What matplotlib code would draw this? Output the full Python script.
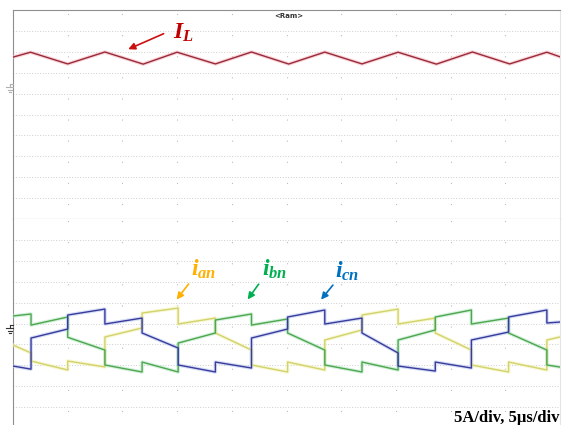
import numpy as np
import matplotlib
matplotlib.use('Agg')
import matplotlib.pyplot as plt
from matplotlib.lines import Line2D

plt.rcParams['mathtext.fontset'] = 'custom'
plt.rcParams['mathtext.it'] = 'Liberation Serif:italic:bold'
plt.rcParams['mathtext.rm'] = 'Liberation Serif:bold'
plt.rcParams['mathtext.bf'] = 'Liberation Serif:bold'

# Scope data (time in us, current in A, 5 us/div, 5 A/div)
T_IL = [0.0, 1.6, 5.0, 8.4, 11.9, 15.0, 18.5, 21.8, 25.2, 28.5, 31.9, 35.2, 38.7, 42.0, 45.4, 48.8, 50.0]
I_L = [2.95, 3.42, 2.30, 3.44, 2.28, 3.42, 2.30, 3.44, 2.29, 3.43, 2.30, 3.42, 2.28, 3.44, 2.30, 3.42, 2.98]

T_PH = [0.0, 1.65, 1.65, 5.0, 5.0, 8.4, 8.4, 11.8, 11.8, 15.1, 15.1, 18.5, 18.5, 21.8, 21.8,
        25.1, 25.1, 28.5, 28.5, 31.9, 31.9, 35.2, 35.2, 38.6, 38.6, 41.9, 41.9, 45.3, 45.3,
        48.8, 48.8, 50.0]
I_CN = [-3.35, -3.65, -0.67, 0.19, 1.53, 2.10, 0.67, 1.24, -0.19, -1.63, -3.25, -3.92, -2.97, -3.54,
        -0.67, 0.19, 1.34, 2.01, 0.67, 1.24, -0.19, -2.10, -3.35, -3.83, -2.97, -3.54,
        -0.86, -0.10, 1.34, 2.01, 0.77, 0.86]
I_AN = [-1.34, -2.10, -2.87, -3.73, -2.87, -3.44, -0.57, 0.29, 1.72, 2.20, 0.67, 1.24, -0.19, -1.82,
        -3.25, -3.92, -2.97, -3.73, -0.86, 0.10, 1.53, 2.10, 0.67, 1.24, -0.19, -1.82,
        -3.25, -3.92, -2.97, -3.73, -0.86, -0.57]
I_BN = [1.44, 1.63, 0.57, 1.34, -0.60, -1.82, -3.25, -3.92, -2.97, -3.92, -1.15, -0.19, 1.05, 1.63,
        0.57, 1.15, -0.19, -1.82, -3.25, -3.92, -2.97, -3.73, -0.86, 0.10, 1.34, 2.01,
        0.67, 1.24, -0.19, -1.82, -3.25, -3.45]

W, H = 562, 425
GRID_C = '#bdbdbd'
FRAME_C = '#8f8f8f'


def px_rect(x0, y0, x1, y1):
    return [x0 / W, 1 - y1 / H, (x1 - x0) / W, (y1 - y0) / H]


def fx(px):
    return px / W


def fy(py):
    return 1 - py / H


fig = plt.figure(figsize=(5.62, 4.25), dpi=100)
fig.patch.set_facecolor('white')

ax_top = fig.add_axes(px_rect(13, 10, 560, 219))
ax_bot = fig.add_axes(px_rect(13, 219, 560, 428))

ax_top.set_ylim(-12.54, 7.46)
ax_bot.set_ylim(-9.28, 10.72)

for ax in (ax_top, ax_bot):
    ax.set_xlim(0, 50)
    ax.set_xticks([])
    ax.set_yticks([])
    lo, hi = ax.get_ylim()
    # dotted grid rows every 2 A and sparse dotted columns every 5 us
    for r in np.arange(hi - 2, lo + 0.5, -2):
        ax.axhline(r, color=GRID_C, lw=0.6, ls=(0, (1, 2.2)), zorder=1)
    for c in range(5, 50, 5):
        ax.axvline(c, color=GRID_C, lw=0.8, ls=(6, (1, 18)), zorder=1)
    ax.spines['left'].set_color(FRAME_C)
    ax.spines['right'].set_color('#e4e4e4')

ax_top.spines['top'].set_color(FRAME_C)
ax_top.spines['bottom'].set_color(FRAME_C)
ax_bot.spines['top'].set_visible(False)
ax_bot.spines['bottom'].set_visible(False)

# traces: light halo + thin core
ax_top.plot(T_IL, I_L, color='#f4b8c0', lw=2.6, alpha=0.6, zorder=3)
ax_top.plot(T_IL, I_L, color='#9a2a3a', lw=1.0, zorder=4)

traces = [
    (I_AN, '#d2d26e', '#f4f4b8'),
    (I_BN, '#4ea64e', '#b8e8c8'),
    (I_CN, '#3a3a9a', '#b8c8f0'),
]
for vals, core, halo in traces:
    ax_bot.plot(T_PH, vals, color=halo, lw=2.6, alpha=0.6, zorder=3)
    ax_bot.plot(T_PH, vals, color=core, lw=1.0, zorder=4)

# annotations
ax_top.annotate('', xy=(10.3, 3.6), xytext=(14.0, 5.3),
                arrowprops=dict(arrowstyle='-|>', color='#cc1010', lw=1.2, mutation_scale=10))
ax_top.text(14.6, 4.75, r'$I_L$', color='#c00000', fontsize=17, ha='left', va='baseline')

labels = [
    (r'$i_{an}$', '#ffb000', (16.3, 5.3), (16.2, 4.7), (14.8, 2.8)),
    (r'$i_{bn}$', '#00b050', (22.8, 5.25), (22.6, 4.7), (21.3, 2.8)),
    (r'$i_{cn}$', '#0070c0', (29.4, 5.15), (29.4, 4.6), (28.0, 2.8)),
]
for txt, col, tpos, tail, head in labels:
    ax_bot.annotate('', xy=head, xytext=tail,
                    arrowprops=dict(arrowstyle='-|>', color=col, lw=1.2, mutation_scale=10))
    ax_bot.text(tpos[0], tpos[1], txt, color=col, fontsize=17, ha='left', va='baseline')

# ground markers on the left edge
def ground(py, col):
    segs = [((13, 9.5), (py - 4, py - 4)), ((9.5, 9.5), (py - 4, py - 1)),
            ((6.5, 12.5), (py - 1, py - 1)), ((7.5, 11.5), (py + 1.5, py + 1.5)),
            ((8.5, 10.5), (py + 3.5, py + 3.5))]
    for xs, ys in segs:
        fig.add_artist(Line2D([fx(x) for x in xs], [fy(y) for y in ys],
                              color=col, lw=0.8))

ground(88, '#b0b0b0')
ground(329, '#333333')

fig.text(fx(289), fy(16.5), '<Ram>', ha='center', va='center', fontsize=5,
         fontweight='bold', color='#333333')
fig.text(fx(560), fy(422), '5A/div, 5\u03bcs/div', ha='right', va='baseline',
         fontfamily='Liberation Serif', fontweight='bold', fontsize=12, color='black')

fig.savefig('out.png', dpi=100)
